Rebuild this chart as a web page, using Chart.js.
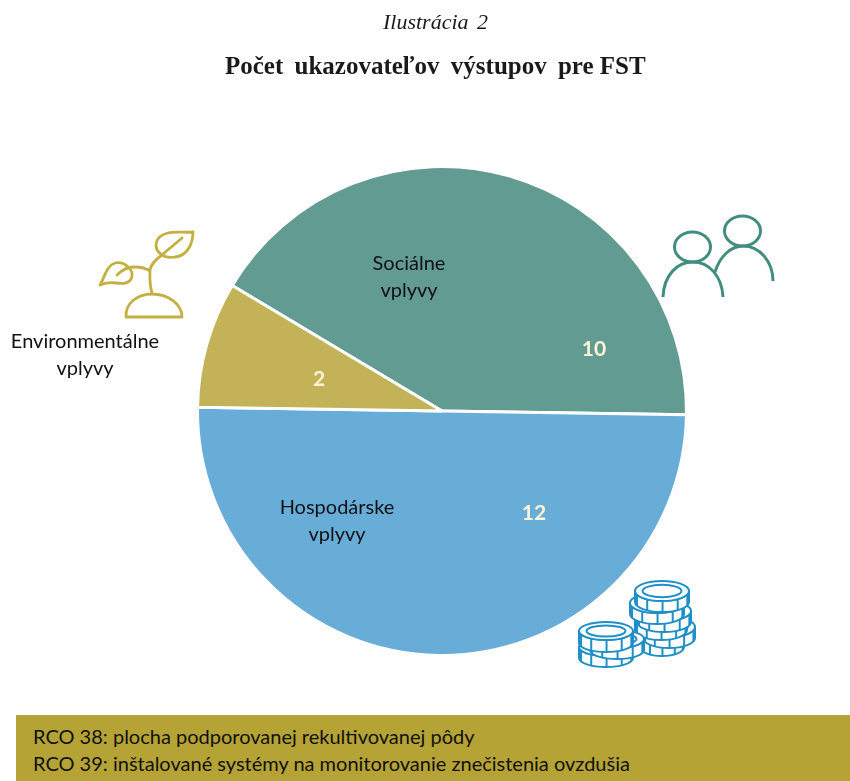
<!DOCTYPE html>
<html lang="sk">
<head>
<meta charset="utf-8">
<title>Počet ukazovateľov výstupov pre FST</title>
<script src="https://cdn.jsdelivr.net/npm/chart.js@4"></script>
<style>
  html, body { margin: 0; padding: 0; background: #fff; }
  #page { position: relative; width: 850px; height: 781px; overflow: hidden; }
  #myChart { position: absolute; left: 0; top: 0; }
  .head { position: absolute; left: 0; text-align: center; color: #1a1a1a; font-family: "Liberation Serif", serif; white-space: nowrap; }
  #kicker { top: 9px; left: 383px; font-size: 22px; font-style: italic; word-spacing: 3px; }
  #title { top: 52px; left: 225px; font-size: 25px; font-weight: bold; word-spacing: 5px; }
  #title span { word-spacing: 0; }
  #note { position: absolute; left: 16px; top: 715px; width: 834px; height: 66px; background: #b5a335;
          font-family: Lato, sans-serif; font-size: 20px; line-height: 27px; color: #111; }
  #note div { position: relative; left: 17px; top: 8px; white-space: nowrap; }
</style>
</head>
<body>
<div id="page">
  <canvas id="myChart" width="850" height="781"></canvas>
  <div class="head" id="kicker">Ilustrácia 2</div>
  <div class="head" id="title">Počet ukazovateľov výstupov <span>pre FST</span></div>
  <div id="note">
    <div>RCO 38: plocha podporovanej rekultivovanej pôdy</div>
    <div>RCO 39: inštalované systémy na monitorovanie znečistenia ovzdušia</div>
  </div>
</div>
<script>
const categories = ['Sociálne vplyvy', 'Hospodárske vplyvy', 'Environmentálne vplyvy'];
const values = [10, 12, 2];
const colors = ['#629b92', '#68acd8', '#c4b259'];

const ctx = document.getElementById('myChart');

// label spots, same order as categories
const valueSpots = [[594, 349], [534, 513], [319, 379]];
const nameSpots = [[409, 264], [337, 508], [85, 342]];

function drawPlant(c) {
    c.strokeStyle = '#c4b040';
    c.lineWidth = 2.8;
    c.lineCap = 'round';
    c.lineJoin = 'round';
    c.beginPath();
    // mound
    c.moveTo(126, 317);
    c.bezierCurveTo(125, 303, 138, 294, 152, 294);
    c.bezierCurveTo(168, 294, 182, 304, 182, 317);
    c.closePath();
    // stem
    c.moveTo(152, 293);
    c.bezierCurveTo(149, 283, 150, 276, 150, 270);
    c.bezierCurveTo(151, 264, 155, 260, 162, 255);
    // right leaf
    c.moveTo(162, 255);
    c.bezierCurveTo(152, 248, 155, 236, 168, 233);
    c.bezierCurveTo(176, 231, 186, 233, 193, 232);
    c.bezierCurveTo(193, 244, 187, 256, 175, 257);
    c.bezierCurveTo(170, 258, 165, 257, 162, 255);
    c.moveTo(163, 254);
    c.lineTo(182, 238);
    // left leaf
    c.moveTo(100, 285);
    c.bezierCurveTo(105, 277, 106, 266, 115, 263);
    c.bezierCurveTo(125, 261, 133, 270, 132, 276);
    c.bezierCurveTo(131, 284, 122, 284, 116, 283);
    c.bezierCurveTo(110, 282, 105, 283, 100, 285);
    c.moveTo(117, 275);
    c.bezierCurveTo(122, 270, 128, 267, 134, 267);
    c.bezierCurveTo(141, 267, 146, 268, 150, 271);
    c.stroke();
}

function drawPeople(c) {
    c.strokeStyle = '#418d80';
    c.lineWidth = 3;
    c.lineCap = 'butt';
    c.beginPath();
    c.ellipse(692.5, 247, 18, 15, 0, 0, Math.PI * 2);
    c.stroke();
    c.beginPath();
    c.ellipse(742.5, 231, 18, 15, 0, 0, Math.PI * 2);
    c.stroke();
    c.beginPath();
    c.moveTo(663, 297);
    c.bezierCurveTo(664, 274, 678, 262, 693, 262);
    c.bezierCurveTo(709, 262, 722, 276, 723, 297);
    c.moveTo(715, 272);
    c.bezierCurveTo(720, 256, 731, 246, 743, 246);
    c.bezierCurveTo(760, 246, 773, 262, 773, 281);
    c.stroke();
}

function drawCoin(c, x, y, rx, ry, h) {
    c.fillStyle = '#fff';
    c.strokeStyle = '#1f8fc8';
    c.lineWidth = 2;
    c.beginPath();
    c.ellipse(x, y, rx, ry, 0, Math.PI, 0, true);
    c.lineTo(x + rx, y + h);
    c.ellipse(x, y + h, rx, ry, 0, 0, Math.PI);
    c.closePath();
    c.fill();
    c.stroke();
    c.beginPath();
    c.ellipse(x, y, rx, ry, 0, 0, Math.PI * 2);
    c.fill();
    c.stroke();
    c.beginPath();
    c.ellipse(x, y, rx * 0.72, ry * 0.62, 0, 0, Math.PI * 2);
    c.stroke();
    c.beginPath();
    [0.35, 0.95, 1.55, 2.15, 2.75].forEach(function (a) {
        const px = x + rx * Math.cos(a);
        const py = y + ry * Math.sin(a);
        c.moveTo(px, py);
        c.lineTo(px, py + h);
    });
    c.stroke();
}

function drawCoins(c) {
    // right stack, bottom coin first
    drawCoin(c, 662, 634, 22, 9, 13);
    drawCoin(c, 669, 627, 26, 10, 11);
    drawCoin(c, 661, 619, 26, 10, 11);
    drawCoin(c, 664, 611, 27, 10, 11);
    drawCoin(c, 657, 603, 27, 10, 11);
    drawCoin(c, 662, 591, 27, 10, 11);
    // left stack
    drawCoin(c, 606, 647, 27, 9, 11);
    drawCoin(c, 617, 639, 27, 9, 11);
    drawCoin(c, 606, 631, 27, 9, 12);
}

const extras = {
    id: 'extras',
    afterDraw(chart) {
        const c = chart.ctx;
        c.save();
        drawPlant(c);
        drawPeople(c);
        drawCoins(c);
        c.textAlign = 'center';
        c.textBaseline = 'middle';
        c.font = 'bold 21px Lato, sans-serif';
        c.fillStyle = '#fff4d6';
        values.forEach(function (v, i) {
            c.fillText(String(v), valueSpots[i][0], valueSpots[i][1]);
        });
        c.font = '20px Lato, sans-serif';
        c.fillStyle = '#111';
        categories.forEach(function (name, i) {
            const words = name.split(' ');
            c.fillText(words[0], nameSpots[i][0], nameSpots[i][1]);
            c.fillText(words[1], nameSpots[i][0], nameSpots[i][1] + 27);
        });
        c.restore();
    }
};

new Chart(ctx, {
    type: 'pie',
    data: {
        labels: categories,
        datasets: [
            {
                data: values,
                backgroundColor: colors,
                borderColor: '#fff',
                borderWidth: 3
            }
        ]
    },
    options: {
        responsive: false,
        animation: false,
        rotation: -59.1,
        layout: {
            padding: { left: 196, right: 162, top: 165, bottom: 124 }
        },
        plugins: {
            legend: { display: false },
            tooltip: { enabled: false }
        }
    },
    plugins: [extras]
});
</script>
</body>
</html>
